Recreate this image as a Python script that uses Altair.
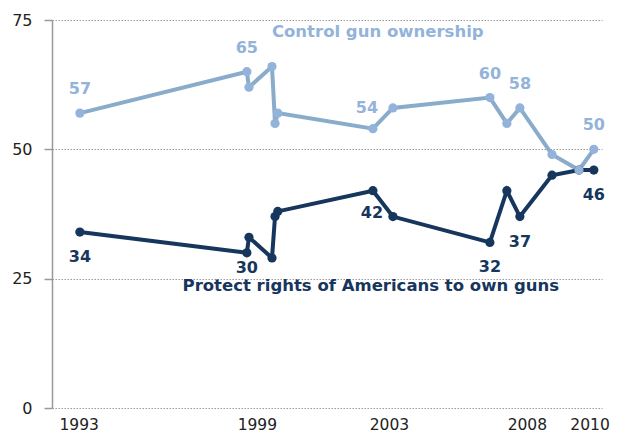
import altair as alt
import pandas as pd

# survey dates (fractional years) and percentages
years = [1993.0, 1998.51, 1998.58, 1999.34, 1999.44, 1999.53, 2002.67, 2003.33,
         2006.53, 2007.09, 2007.52, 2008.58, 2009.47, 2009.96]
control = [57, 65, 62, 66, 55, 57, 54, 58, 60, 55, 58, 49, 46, 50]
protect = [34, 30, 33, 29, 37, 38, 42, 37, 32, 42, 37, 45, 46, 46]
control_shown = ["57", "65", "", "", "", "", "54", "", "60", "", "58", "", "", "50"]
protect_shown = ["34", "30", "", "", "", "", "42", "", "32", "", "37", "", "", "46"]

tick_years = [1992.96, 1998.84, 2003.20, 2007.75, 2009.82]

series_names = ["Control gun ownership", "Protect rights of Americans to own guns"]
series_x = [2002.83, 2002.6]
series_y = [72.6, 23.5]

LIGHT_LINE = "#8aaccb"
LIGHT_PT = "#93b3da"
DARK = "#17365d"
FONT = "DejaVu Sans"

df = pd.DataFrame({
    "i": list(range(len(years))) * 2,
    "year": years * 2,
    "value": control + protect,
    "label": control_shown + protect_shown,
    "series": ["control"] * len(years) + ["protect"] * len(years),
})
ann = pd.DataFrame({"name": series_names, "x": series_x, "y": series_y,
                    "series": ["control", "protect"]})

xscale = alt.Scale(domain=[1992.08, 2010.23], nice=False, zero=False)
yscale = alt.Scale(domain=[0, 75], nice=False)

xaxis = alt.Axis(values=tick_years, labelExpr="format(round(datum.value), 'd')",
                 grid=False, domain=False, ticks=False, labelPadding=9,
                 labelFontSize=15.5, labelFont=FONT, labelColor="#222222",
                 labelFlush=False, labelOverlap=False, labelBound=False, title=None)
yaxis = alt.Axis(values=[0, 25, 50, 75], grid=True, gridDash=[1.5, 1.5], gridColor="#999999",
                 gridWidth=1, domain=True, domainColor="#999999", domainWidth=1.5,
                 ticks=True, tickSize=8, tickColor="#999999", tickWidth=1.5,
                 labelPadding=12, labelFontSize=16, labelFont=FONT, labelColor="#222222",
                 title=None)

base = alt.Chart(df)
X = alt.X("year:Q", scale=xscale, axis=xaxis)
Y = alt.Y("value:Q", scale=yscale, axis=yaxis)

dark = base.transform_filter("datum.series == 'protect'")
light = base.transform_filter("datum.series == 'control'")

dark_line = dark.mark_line(color=DARK, strokeWidth=4).encode(x=X, y=Y, order="i:Q")
dark_pts = dark.mark_circle(color=DARK, size=85, opacity=1).encode(x=X, y=Y)
light_line = light.mark_line(color=LIGHT_LINE, strokeWidth=4).encode(x=X, y=Y, order="i:Q")
light_pts = light.mark_circle(color=LIGHT_PT, size=85, opacity=1).encode(x=X, y=Y)

txt = dict(fontSize=16, fontWeight="bold", font=FONT, align="center", baseline="middle")

light_lbl = light.transform_filter("datum.label != '' && datum.label != '54'").mark_text(
    color=LIGHT_PT, dy=-24, **txt).encode(x=X, y=Y, text="label:N")
light_lbl2 = light.transform_filter("datum.label == '54'").mark_text(
    color=LIGHT_PT, dy=-21, dx=-6, **txt).encode(x=X, y=Y, text="label:N")
dark_lbl = dark.transform_filter("datum.label != '' && datum.label != '30' && datum.label != '42'").mark_text(
    color=DARK, dy=25, **txt).encode(x=X, y=Y, text="label:N")
dark_lbl2 = dark.transform_filter("datum.label == '30'").mark_text(
    color=DARK, dy=15, **txt).encode(x=X, y=Y, text="label:N")
dark_lbl3 = dark.transform_filter("datum.label == '42'").mark_text(
    color=DARK, dy=22, dx=-1, **txt).encode(x=X, y=Y, text="label:N")

annb = alt.Chart(ann)
ann_c = annb.transform_filter("datum.series == 'control'").mark_text(
    color=LIGHT_PT, fontSize=16.5, fontWeight="bold", font=FONT, align="center", baseline="middle"
).encode(x=alt.X("x:Q", scale=xscale, axis=xaxis), y=alt.Y("y:Q", scale=yscale, axis=yaxis), text="name:N")
ann_p = annb.transform_filter("datum.series == 'protect'").mark_text(
    color=DARK, fontSize=16.5, fontWeight="bold", font=FONT, align="center", baseline="middle"
).encode(x=alt.X("x:Q", scale=xscale, axis=xaxis), y=alt.Y("y:Q", scale=yscale, axis=yaxis), text="name:N")

chart = alt.layer(
    dark_line, light_line, dark_pts, light_pts,
    light_lbl, light_lbl2, dark_lbl, dark_lbl2, dark_lbl3, ann_c, ann_p
).properties(
    width=550, height=388,
    autosize=alt.AutoSizeParams(type="none"),
    padding={"left": 44, "top": 12, "right": 9, "bottom": 26},
    background="white",
).configure_view(stroke=None)

chart.save("out.html", embed_options={"renderer": "svg", "actions": False})
